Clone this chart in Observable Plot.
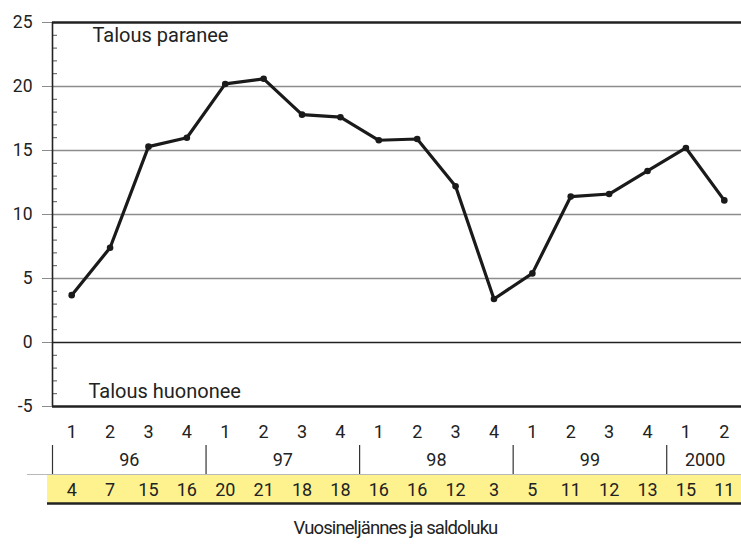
<!DOCTYPE html>
<html>
<head>
<meta charset="utf-8">
<script src="https://cdn.jsdelivr.net/npm/d3@7"></script>
<script src="https://cdn.jsdelivr.net/npm/@observablehq/plot@0.6"></script>
<style>
  html, body { margin: 0; padding: 0; background: #fff; overflow: hidden; }
  #chart { width: 741px; }
  #chart svg { display: block; }
  .caption { width: 741px; text-align: center; font-size: 18.5px; line-height: 20px; margin-top: 10px; color: #222;
    letter-spacing: -0.9px; font-family: Roboto, "Liberation Sans", sans-serif; padding-left: 50px; box-sizing: border-box; }
</style>
</head>
<body>
<div id="chart"></div>
<div class="caption">Vuosineljännes ja saldoluku</div>
<script>
// ---- Data ----
const quarters = [1, 2, 3, 4, 1, 2, 3, 4, 1, 2, 3, 4, 1, 2, 3, 4, 1, 2];
const years = ["96", "97", "98", "99", "2000"];
const quartersPerYear = [4, 4, 4, 4, 2];
const balance = [3.7, 7.4, 15.3, 16.0, 20.2, 20.6, 17.8, 17.6, 15.8, 15.9, 12.2, 3.4, 5.4, 11.4, 11.6, 13.4, 15.2, 11.1];
const balanceLabels = [4, 7, 15, 16, 20, 21, 18, 18, 16, 16, 12, 3, 5, 11, 12, 13, 15, 11];
const yTicks = [-5, 0, 5, 10, 15, 20, 25];
const gridValues = [5, 10, 15, 20];
const topLabel = "Talous paranee";
const bottomLabel = "Talous huononee";
const rows = ["Neljännes", "Vuosi", "Saldo"];

// ---- Derived ----
const n = balance.length;
const xDomain = [-0.5, n - 0.5];
const xRange = [52, 743];
const minorTicks = d3.range(-5, 26).filter(v => v % 5 !== 0);
const series = balance.map((v, i) => ({i, v}));
let start = 0;
const yearGroups = years.map((y, k) => {
  const g = {year: y, start: start, count: quartersPerYear[k]};
  start += quartersPerYear[k];
  return g;
});
const FONT = 'Roboto, "Liberation Sans", sans-serif';
const W = 741;
const rowH = 29;

const chart = Plot.plot({
  width: W,
  height: 416,
  marginTop: 22,
  marginBottom: 10,
  marginLeft: 52,
  marginRight: 0,
  style: {fontFamily: FONT, fontSize: "17px", color: "#222", background: "transparent"},
  x: {domain: xDomain, range: xRange, axis: null},
  y: {domain: [-5, 25], axis: null},
  marks: [
    Plot.ruleY(gridValues, {stroke: "#8c8c8c", strokeWidth: 1.3}),
    Plot.ruleY(minorTicks, {stroke: "#555", strokeWidth: 1, insetRight: W - 52 - 5}),
    Plot.axisY(yTicks, {anchor: "left", label: null, tickSize: 10, tickPadding: 10, stroke: "#8c8c8c", fill: "#222", fontSize: 17.5,
      tickFormat: d => (d < 0 ? "-" + (-d) : String(d))}),
    Plot.ruleY([0], {stroke: "#222", strokeWidth: 1.6}),
    Plot.ruleY([25, -5], {stroke: "#222", strokeWidth: 2.4}),
    Plot.ruleX([xDomain[0]], {stroke: "#222", strokeWidth: 1.6}),
    Plot.line(series, {x: "i", y: "v", stroke: "#1a1a1a", strokeWidth: 3.2, strokeLinejoin: "round"}),
    Plot.dot(series, {x: "i", y: "v", r: 3.3, fill: "#1a1a1a"}),
    Plot.text([topLabel], {frameAnchor: "top-left", lineAnchor: "top", dx: 40, dy: 5, fill: "#222", fontSize: 20}),
    Plot.text([bottomLabel], {frameAnchor: "bottom-left", lineAnchor: "bottom", dx: 36, dy: -9, fill: "#222", fontSize: 20})
  ]
});

const table = Plot.plot({
  width: W,
  height: 92,
  marginTop: 0,
  marginBottom: 5,
  marginLeft: 47,
  marginRight: 0,
  style: {fontFamily: FONT, fontSize: "18px", color: "#222", background: "transparent"},
  x: {domain: xDomain, range: xRange, axis: null},
  y: {type: "band", domain: rows, range: [0, rowH * rows.length], padding: 0, axis: null},
  marks: [
    Plot.barX([rows[2]], {x1: () => xDomain[0], x2: () => xDomain[1], y: d => d, fill: "#fdf28e", insetLeft: -5}),
    Plot.ruleY([rows[2]], {y: d => d, x1: () => xDomain[0], x2: () => xDomain[1], dy: -rowH / 2, insetLeft: -25, stroke: "#b8b8b8", strokeWidth: 1}),
    Plot.ruleY([rows[2]], {y: d => d, x1: () => xDomain[0], x2: () => xDomain[1], dy: rowH / 2, insetLeft: -5, stroke: "#222", strokeWidth: 2.4}),
    Plot.tickX(yearGroups, {x: d => d.start - 0.5, y: () => rows[1], stroke: "#333", strokeWidth: 1.2}),
    Plot.text(quarters, {x: (d, i) => i, y: () => rows[0], text: d => String(d), fill: "#222", fontSize: 18, dy: 1}),
    Plot.text(yearGroups, {x: d => d.start + (d.count - 1) / 2, y: () => rows[1], text: "year", fill: "#222", fontSize: 18}),
    Plot.text(balanceLabels, {x: (d, i) => i, y: () => rows[2], text: d => String(d), fill: "#222", fontSize: 18, dy: 1})
  ]
});

const host = document.getElementById("chart");
host.appendChild(chart);
host.appendChild(table);
</script>
</body>
</html>
